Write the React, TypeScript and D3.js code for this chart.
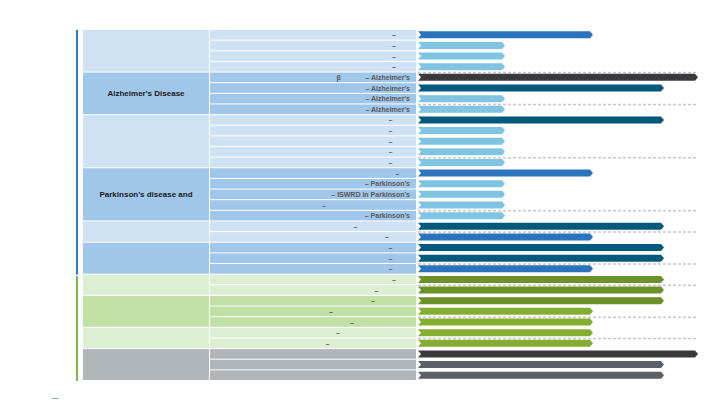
import React from "react";
import * as d3 from "d3";

const S = "\u2003";
const H = "\u2002";

// one entry per pipeline row (top to bottom)
const rowLabels: string[] = [
  `–${S}${S}`,
  `–${S}${S}`,
  `–${S}${S}`,
  `–${S}${S}`,
  `β${S}${S}${S}${H}– Alzheimer's`,
  "– Alzheimer's",
  "– Alzheimer's",
  "– Alzheimer's",
  `–${S}${S}${H}`,
  `–${S}${S}${H}`,
  `–${S}${S}${H}`,
  `–${S}${S}${H}`,
  `–${S}${S}${H}`,
  `–${S}${H}`,
  "– Parkinson's",
  "– ISWRD in Parkinson's",
  `–${S.repeat(12)}`,
  "– Parkinson's",
  `–${S.repeat(7)}${H}`,
  `–${S.repeat(3)}`,
  `–${S}${S}${H}`,
  `–${S}${S}${H}`,
  `–${S}${S}${H}`,
  `–${S}${S}`,
  `–${S.repeat(4)}${H}`,
  `–${S.repeat(5)}`,
  `–${S.repeat(11)}`,
  `–${S.repeat(8)}`,
  `–${S.repeat(10)}`,
  `–${S.repeat(11)}${H}`,
  "",
  "",
  "",
];

const rowPhases: string[] = [
  "P2", "P1", "P1", "P1",
  "F", "P3", "P1", "P1",
  "P3", "P1", "P1", "P1", "P1",
  "P2", "P1", "P1", "P1", "P1",
  "P3", "P2",
  "P3", "P3", "P2",
  "P3", "P3",
  "P3", "P2", "P2",
  "P2", "P2",
  "F", "P3", "P3",
];

const groupLabels = [
  "", "Alzheimer's Disease", "", "Parkinson's disease and", "", "", "", "", "", "",
];
const groupSizes = [4, 4, 5, 5, 2, 3, 2, 3, 2, 3];
const groupAreas = ["blue", "blue", "blue", "blue", "blue", "blue", "green", "green", "green", "gray"];
const groupTones = ["light", "mid", "light", "mid", "light", "mid", "light", "mid", "light", "mid"];

const phases = ["P1", "P2", "P3", "F"];
// rows after which a dashed separator is drawn (0-based)
const separatorsAfter = [3, 6, 11, 16, 18, 21, 23, 26, 28];

const cellColors: Record<string, Record<string, string>> = {
  blue: { light: "#cfe2f3", mid: "#a0c6ea" },
  green: { light: "#ddefd3", mid: "#c0e0a6" },
  gray: { light: "#b0b6b9", mid: "#b0b6b9" },
};
const barColors: Record<string, Record<string, string>> = {
  blue: { P1: "#7fc4e2", P2: "#2b74bd", P3: "#03597d", F: "#3a3a3c" },
  green: { P1: "#a6c96a", P2: "#84ae30", P3: "#6b9128", F: "#3a3a3c" },
  gray: { P1: "#8b9196", P2: "#6f757a", P3: "#5b6167", F: "#3a3a3c" },
};
const sideColors: Record<string, string> = { blue: "#2a78c8", green: "#7ab648", gray: "#7ab648" };

const FONT = "'Liberation Sans', Arial, Helvetica, sans-serif";

export default function App() {
  const width = 720;
  const height = 405;
  const rowIdx = rowLabels.map((_, i) => i);
  const y = d3.scaleBand<number>().domain(rowIdx).range([30, 381]);
  const bw = y.bandwidth();
  const xEnd = d3.scaleOrdinal<string, number>().domain(phases).range([505, 593, 664, 698]);
  const barX0 = 418;

  const groups: { start: number; end: number; i: number }[] = [];
  let acc = 0;
  groupSizes.forEach((n, i) => {
    groups.push({ start: acc, end: acc + n - 1, i });
    acc += n;
  });
  const rowArea = rowIdx.map((r) => groupAreas[groups.find((g) => r >= g.start && r <= g.end)!.i]);
  const rowTone = rowIdx.map((r) => groupTones[groups.find((g) => r >= g.start && r <= g.end)!.i]);

  const barH = 7;
  const barPath = (x0: number, x1: number, cy: number) => {
    const t = cy - barH / 2;
    const b = cy + barH / 2;
    const p = d3.path();
    p.moveTo(x0, t);
    p.lineTo(x1 - 3, t);
    p.lineTo(x1, cy);
    p.lineTo(x1 - 3, b);
    p.lineTo(x0, b);
    p.lineTo(x0 + 3, cy);
    p.closePath();
    return p.toString();
  };

  const sideRuns: { area: string; start: number; end: number }[] = [];
  rowIdx.forEach((r) => {
    const a = rowArea[r] === "gray" ? "green" : rowArea[r];
    const last = sideRuns[sideRuns.length - 1];
    if (last && last.area === a) last.end = r;
    else sideRuns.push({ area: a, start: r, end: r });
  });

  return (
    <svg width={width} height={height} style={{ position: "absolute", left: 0, top: 0, background: "#fff" }}>
      {sideRuns.map((s, i) => (
        <rect
          key={"side" + i}
          x={76}
          y={y(s.start)! + (i > 0 ? 1.5 : 0)}
          width={2}
          height={y(s.end)! + bw - y(s.start)! - (i > 0 ? 1.5 : 0)}
          fill={sideColors[s.area]}
        />
      ))}
      {groups.map((g) => {
        const top = y(g.start)!;
        const bot = y(g.end)! + bw;
        return (
          <g key={"grp" + g.i}>
            <rect
              x={83}
              y={top}
              width={126}
              height={bot - top - 1}
              fill={cellColors[groupAreas[g.i]][groupTones[g.i]]}
            />
            {groupLabels[g.i] && (
              <text
                x={146}
                y={(top + bot) / 2}
                textAnchor="middle"
                dominantBaseline="central"
                fontFamily={FONT}
                fontWeight="bold"
                fontSize={8}
                fill="#1a1a1a"
              >
                {groupLabels[g.i]}
              </text>
            )}
          </g>
        );
      })}
      {rowIdx.map((r) => (
        <g key={"row" + r}>
          <rect
            x={210}
            y={y(r)!}
            width={206}
            height={bw - 1}
            fill={cellColors[rowArea[r]][rowTone[r]]}
          />
          {rowLabels[r] && (
            <text
              x={410}
              y={y(r)! + bw / 2 - 0.5}
              textAnchor="end"
              dominantBaseline="central"
              fontFamily={FONT}
              fontWeight="bold"
              fontSize={7}
              fill="#595959"
              style={{ whiteSpace: "pre" }}
              xmlSpace="preserve"
            >
              {rowLabels[r]}
            </text>
          )}
        </g>
      ))}
      {separatorsAfter.map((r) => (
        <line
          key={"sep" + r}
          x1={barX0}
          x2={698}
          y1={y(r)! + bw}
          y2={y(r)! + bw}
          stroke="#c8c8c8"
          strokeWidth={1.5}
          strokeDasharray="3,2"
        />
      ))}
      {rowIdx.map((r) => (
        <path
          key={"bar" + r}
          d={barPath(barX0, xEnd(rowPhases[r]), y(r)! + bw / 2 - 0.5)}
          fill={barColors[rowArea[r]][rowPhases[r]]}
        />
      ))}
      <text x={55} y={397} textAnchor="middle" dominantBaseline="central" fontFamily={FONT} fontSize={11} fill="#5b95d6">
        –
      </text>
    </svg>
  );
}
